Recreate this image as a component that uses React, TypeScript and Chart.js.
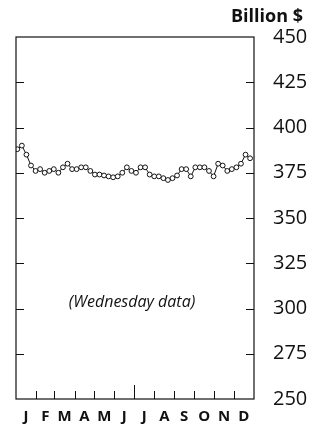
import React, { useEffect, useRef } from "react";
import { Chart, registerables } from "chart.js";

Chart.register(...registerables);

const monthLetters = ["J", "F", "M", "A", "M", "J", "J", "A", "S", "O", "N", "D"];
const monthStarts = [0, 31, 59, 90, 120, 151, 181, 212, 243, 273, 304, 334, 365];
const yTicks = [250, 275, 300, 325, 350, 375, 400, 425, 450];
const weekDays = [
  2, 9, 16, 23, 30, 37, 44, 51, 58, 65, 72, 79, 86, 93, 100, 107, 114, 121, 128, 135, 142, 149, 156, 163, 170, 177,
  184, 191, 198, 205, 212, 219, 226, 233, 240, 247, 254, 261, 268, 275, 282, 289, 296, 303, 310, 317, 324, 331, 338,
  345, 352, 359,
];
const reserves = [
  388, 390, 385, 379, 376, 377, 375, 376, 377, 375, 378, 380, 377, 377, 378, 378, 376, 374, 374, 373.5, 373, 372.5, 373,
  375, 378, 376, 375, 378, 378, 374, 373, 373, 372, 371, 372, 373.5, 377, 377, 373, 378, 378, 378, 376, 373, 380, 379,
  376, 377, 378, 380, 385, 383,
];

const FONT = "'Open Sans', Lato, sans-serif";

const framePlugin = {
  id: "frame",
  afterDraw(chart: any) {
    const { ctx, chartArea } = chart;
    const { left, right, top, bottom } = chartArea;
    const x = chart.scales.x;
    const y = chart.scales.y;
    ctx.save();
    ctx.strokeStyle = "#111";
    ctx.lineWidth = 1.2;
    ctx.strokeRect(left, top, right - left, bottom - top);
    ctx.lineWidth = 1;
    yTicks.forEach((v) => {
      if (v === 250 || v === 450) return;
      const py = Math.round(y.getPixelForValue(v)) + 0.5;
      ctx.beginPath();
      ctx.moveTo(left, py);
      ctx.lineTo(left + 8, py);
      ctx.moveTo(right, py);
      ctx.lineTo(right - 8, py);
      ctx.stroke();
    });
    monthStarts.slice(1, 12).forEach((d, i) => {
      const px = Math.round(x.getPixelForValue(d)) + 0.5;
      const len = i === 5 ? 14 : 8;
      ctx.beginPath();
      ctx.moveTo(px, bottom);
      ctx.lineTo(px, bottom - len);
      ctx.stroke();
    });
    ctx.fillStyle = "#111";
    ctx.font = `bold 18px ${FONT}`;
    ctx.textAlign = "right";
    ctx.textBaseline = "middle";
    ctx.fillText("Billion $", 303, 17);
    ctx.font = `italic 16px ${FONT}`;
    ctx.textAlign = "center";
    ctx.fillText("(Wednesday data)", 132, 302);
    ctx.restore();
  },
};

export default function App() {
  const ref = useRef<HTMLCanvasElement>(null);
  useEffect(() => {
    document.body.style.margin = "0";
    const chart = new Chart(ref.current!, {
      type: "line",
      data: {
        datasets: [
          {
            data: weekDays.map((d, i) => ({ x: d, y: reserves[i] })),
            borderColor: "#111",
            borderWidth: 1,
            pointRadius: 2.4,
            pointBackgroundColor: "#fff",
            pointBorderColor: "#111",
            pointBorderWidth: 1,
            tension: 0,
          },
        ],
      },
      options: {
        animation: false,
        responsive: false,
        maintainAspectRatio: false,
        layout: { padding: { left: 16, top: 37, right: 0, bottom: 0 } },
        plugins: { legend: { display: false }, tooltip: { enabled: false } },
        scales: {
          x: {
            type: "linear",
            min: 0,
            max: 365,
            grid: { display: false },
            border: { display: false },
            afterBuildTicks: (s: any) => {
              s.ticks = monthLetters.map((_, i) => ({ value: (monthStarts[i] + monthStarts[i + 1]) / 2 }));
            },
            afterFit: (s: any) => {
              s.height = 26;
            },
            ticks: {
              autoSkip: false,
              maxRotation: 0,
              padding: 1,
              color: "#111",
              font: { family: FONT, size: 15, weight: "bold" },
              callback: (v: any, i: number) => monthLetters[i],
            },
          },
          y: {
            position: "right",
            min: 250,
            max: 450,
            grid: { display: false },
            border: { display: false },
            afterBuildTicks: (s: any) => {
              s.ticks = yTicks.map((v) => ({ value: v }));
            },
            afterFit: (s: any) => {
              s.width = 60;
            },
            ticks: {
              padding: 11,
              color: "#111",
              font: { family: FONT, size: 20 },
            },
          },
        },
      },
      plugins: [framePlugin],
    });
    return () => chart.destroy();
  }, []);
  return <canvas ref={ref} width={314} height={425} style={{ display: "block" }} />;
}
